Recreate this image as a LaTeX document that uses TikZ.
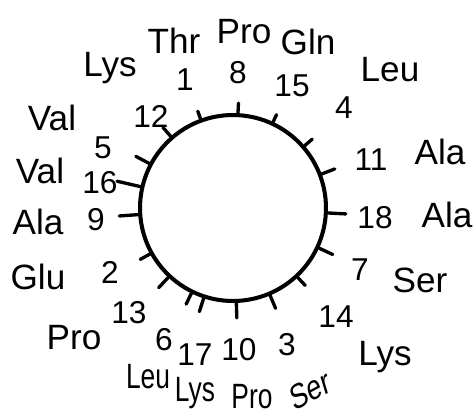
\documentclass[tikz,border=0pt]{standalone}
\usepackage{fontspec}
\setmainfont{Liberation Sans}
\usetikzlibrary{calc}

\begin{document}
\begin{tikzpicture}[x=0.02cm,y=0.02cm,
  res/.style={inner sep=0pt,font=\fontsize{20}{24}\selectfont},
  narrow/.style={res,xscale=0.75},
  num/.style={inner sep=0pt,font=\fontsize{18}{22}\selectfont},
  spoke/.style={line width=1.9pt,line cap=round}]
  \useasboundingbox (0,0) rectangle (476,417);
  \node[draw,circle,line width=2.3pt,minimum size=3.72cm,inner sep=0pt] (wheel) at (233,209) {};
  % residue numbers with their spokes
  \foreach \k/\a/\l/\px/\py in {8/87/10/238/344,15/65/8/292/331,4/41/10/344/309,11/21/14/371/257,
      18/-3/18/375/199,7/-25/15/360/147,14/-47/11/336/100,3/-67/14/287/72,10/-88/15/239/67,
      17/-108/14/195/62,6/-116/12/164/77,13/-133/14/129/104,2/-151/11/110/145,9/-176/19/96/197,
      16/167/24/100/234,5/152/15/103/269,12/131/12/151/301,1/110/8/185/337}{
    \node[num] (n\k) at (\px,\py) {\k};
    \draw[spoke] (wheel.\a) -- ++(\a:\l);
  }
  % residue names
  \node[res] (r1) at (174,376) {Thr};
  \node[res] (r8) at (244,385) {Pro};
  \node[res] (r15) at (308,375) {Gln};
  \node[res] (r4) at (390,347) {Leu};
  \node[res] (r11) at (440,265) {Ala};
  \node[res] (r18) at (447,202) {Ala};
  \node[res] (r7) at (420,137) {Ser};
  \node[res] (r14) at (385,60) {Lys};
  \node[narrow,rotate=22] (r3) at (310,27) {Ser};
  \node[narrow] (r10) at (252,20) {Pro};
  \node[narrow] (r17) at (195,24) {Lys};
  \node[narrow] (r6) at (148,40) {Leu};
  \node[res] (r13) at (74,79) {Pro};
  \node[res] (r2) at (38,140) {Glu};
  \node[res] (r9) at (38,195) {Ala};
  \node[res] (r16) at (40,246) {Val};
  \node[res] (r5) at (52,299) {Val};
  \node[res] (r12) at (110,349) {Lys};
\end{tikzpicture}
\end{document}
